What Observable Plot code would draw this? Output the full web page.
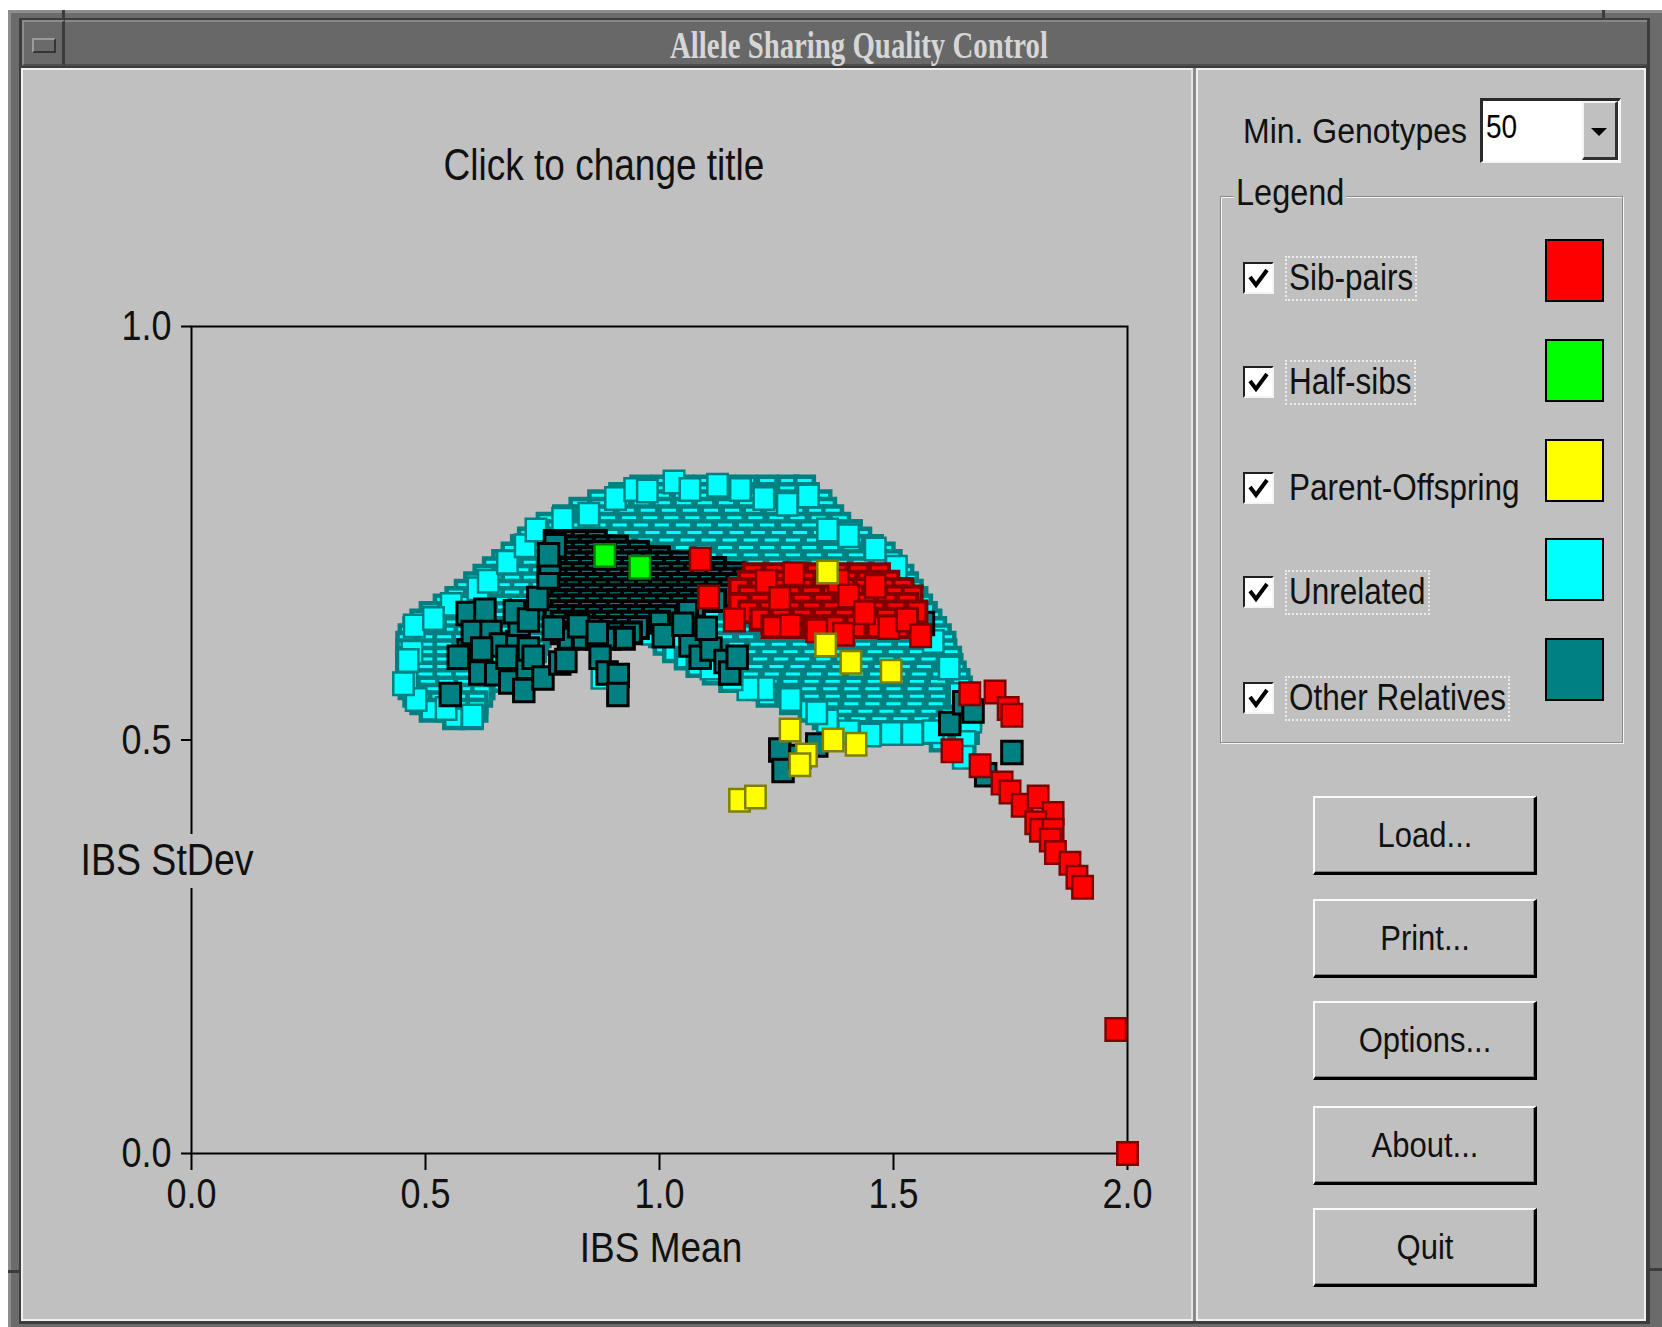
<!DOCTYPE html>
<html>
<head>
<meta charset="utf-8">
<script src="https://cdn.jsdelivr.net/npm/d3@7"></script>
<script src="https://cdn.jsdelivr.net/npm/@observablehq/plot@0.6"></script>
<style>
html,body{margin:0;padding:0;}
body{width:1662px;height:1327px;position:relative;overflow:hidden;background:#fff;font-family:"Liberation Sans",Arial,sans-serif;color:#000;}
.abs{position:absolute;box-sizing:border-box;}
.t{position:absolute;white-space:nowrap;line-height:1;}
#chart{position:absolute;left:22px;top:68px;z-index:2;}
#chart svg g[aria-label="x-axis tick"] path,#chart svg g[aria-label="y-axis tick"] path,#chart svg .tick line{stroke-width:2px;stroke:#000;}
</style>
</head>
<body>
<div id="chrome"></div>
<div id="chart"></div>
<script>
// ---------------- data ----------------
const xTicks = [0, 0.5, 1.0, 1.5, 2.0];
const yTicks = [0, 0.5, 1.0];
const windowTitle = "Allele Sharing Quality Control";
const chartTitle = "Click to change title";
const xLabel = "IBS Mean";
const yLabel = "IBS StDev";
const categories = ["Sib-pairs", "Half-sibs", "Parent-Offspring", "Unrelated", "Other Relatives"];
const buttonLabels = ["Load...", "Print...", "Options...", "About...", "Quit"];
const minGenotypesLabel = "Min. Genotypes";
const minGenotypesValue = "50";

// Sib-pairs [IBS mean, IBS stdev]: dense core rows, then individually visible squares
const sibRows = [
  [0.700,[1.20,1.245,1.29,1.335,1.38,1.425,1.47]],
  [0.691,[1.19,1.23,1.27,1.31,1.355,1.40,1.445,1.49]],
  [0.682,[1.17,1.215,1.26,1.305,1.35,1.395,1.44,1.485,1.52]],
  [0.673,[1.19,1.235,1.28,1.325,1.37,1.415,1.46,1.505,1.54]],
  [0.664,[1.17,1.215,1.26,1.305,1.35,1.395,1.44,1.485,1.53]],
  [0.655,[1.19,1.235,1.28,1.325,1.37,1.415,1.46,1.505,1.55]],
  [0.646,[1.215,1.26,1.305,1.35,1.395,1.44,1.485,1.53]],
  [0.637,[1.24,1.285,1.33,1.375,1.42,1.465,1.51]]
];
const sibPairs = [
  [1.087,0.719],[1.105,0.673],[1.160,0.645],[1.228,0.692],[1.287,0.701],[1.382,0.692],[1.461,0.686],
  [1.257,0.671],[1.404,0.674],[1.438,0.654],[1.490,0.636],[1.529,0.645],[1.558,0.626],[1.280,0.638],
  [1.393,0.628],[1.336,0.632],
  [1.663,0.556],[1.717,0.558],[1.745,0.538],[1.753,0.530],[1.625,0.487],[1.685,0.469],[1.732,0.448],
  [1.749,0.437],[1.775,0.421],[1.809,0.431],[1.841,0.411],[1.804,0.400],[1.814,0.391],[1.841,0.391],
  [1.835,0.379],[1.846,0.364],[1.877,0.351],[1.892,0.334],[1.904,0.322],[1.975,0.150],[2.0,0.0]
];
const halfSibs = [[0.883,0.723],[0.958,0.709]];
const parentOffspring = [
  [1.359,0.703],[1.355,0.615],[1.409,0.594],[1.495,0.583],[1.279,0.512],[1.371,0.500],[1.42,0.495],
  [1.314,0.482],[1.30,0.470],[1.171,0.427],[1.205,0.431]
];
// Unrelated: interior rows [stdev, [means...]] (top to bottom), then edge squares
const unrelatedRows = [
  [0.806,[0.96,1.005,1.05,1.095,1.14,1.185,1.23,1.275,1.31]],
  [0.797,[0.915,0.958,1.003,1.048,1.093,1.138,1.183,1.228,1.273,1.318]],
  [0.788,[0.87,0.915,0.96,1.005,1.05,1.095,1.14,1.185,1.23,1.275,1.32,1.345]],
  [0.779,[0.83,0.872,0.917,0.962,1.007,1.052,1.097,1.142,1.187,1.232,1.277,1.322,1.355]],
  [0.770,[0.795,0.84,0.885,0.93,0.975,1.02,1.065,1.11,1.155,1.20,1.245,1.29,1.335,1.37]],
  [0.761,[0.76,0.80,0.845,0.89,0.935,0.98,1.025,1.07,1.115,1.16,1.205,1.25,1.295,1.34,1.385]],
  [0.752,[0.74,0.78,0.825,0.87,0.915,0.96,1.005,1.05,1.095,1.14,1.185,1.23,1.275,1.32,1.365,1.41]],
  [0.743,[0.72,0.76,0.805,0.85,0.895,0.94,0.985,1.03,1.075,1.12,1.165,1.21,1.255,1.30,1.345,1.39,1.43]],
  [0.734,[0.705,0.745,0.79,0.835,0.88,0.925,0.97,1.015,1.06,1.105,1.15,1.195,1.24,1.285,1.33,1.375,1.42,1.455]],
  [0.725,[0.685,0.725,0.765,0.96,1.005,1.05,1.095,1.14,1.185,1.23,1.275,1.32,1.365,1.41,1.455,1.48]],
  [0.716,[0.665,0.705,0.745,1.06,1.105,1.15,1.195,1.24,1.285,1.33,1.375,1.42,1.465,1.495]],
  [0.707,[0.645,0.685,0.725,0.76,1.16,1.205,1.25,1.295,1.34,1.385,1.43,1.475,1.505]],
  [0.698,[0.625,0.665,0.705,0.745,1.18,1.25,1.32,1.39,1.46,1.50,1.52]],
  [0.689,[0.605,0.645,0.685,0.725,0.76,1.21,1.29,1.37,1.45,1.51,1.53]],
  [0.680,[0.585,0.625,0.665,0.705,0.745,1.24,1.32,1.40,1.48,1.54]],
  [0.671,[0.565,0.605,0.645,0.685,0.725,0.76,1.12,1.20,1.28,1.36,1.44,1.52,1.55]],
  [0.662,[0.54,0.58,0.62,0.66,0.70,0.74,1.14,1.22,1.30,1.38,1.46,1.53,1.56]],
  [0.653,[0.51,0.55,0.59,0.63,0.67,0.71,0.75,1.05,1.09,1.17,1.25,1.33,1.41,1.49,1.545,1.57]],
  [0.644,[0.49,0.53,0.57,0.61,0.65,0.69,0.73,1.03,1.07,1.11,1.19,1.27,1.35,1.43,1.51,1.56,1.58]],
  [0.635,[0.475,0.515,0.555,0.595,0.635,0.675,0.715,0.75,1.01,1.05,1.09,1.13,1.17,1.25,1.33,1.41,1.49,1.55,1.59]],
  [0.626,[0.465,0.505,0.545,0.585,0.625,0.665,0.705,0.745,1.00,1.04,1.08,1.12,1.16,1.20,1.245,1.29,1.335,1.38,1.425,1.47,1.515,1.56,1.60]],
  [0.617,[0.46,0.50,0.54,0.58,0.62,0.66,0.70,0.74,1.01,1.05,1.095,1.14,1.185,1.23,1.275,1.32,1.365,1.41,1.455,1.50,1.545,1.59,1.61]],
  [0.608,[0.46,0.50,0.54,0.58,0.62,0.66,0.70,0.735,1.03,1.075,1.12,1.165,1.21,1.255,1.30,1.345,1.39,1.435,1.48,1.525,1.57,1.612]],
  [0.599,[0.46,0.50,0.54,0.58,0.62,0.66,0.70,1.055,1.10,1.145,1.19,1.235,1.28,1.325,1.37,1.415,1.46,1.505,1.55,1.595,1.622]],
  [0.590,[0.46,0.50,0.54,0.58,0.62,0.66,0.69,1.08,1.125,1.17,1.215,1.26,1.305,1.35,1.395,1.44,1.485,1.53,1.575,1.625]],
  [0.581,[0.46,0.50,0.54,0.58,0.62,0.66,1.115,1.16,1.205,1.25,1.295,1.34,1.385,1.43,1.475,1.52,1.565,1.61,1.632]],
  [0.572,[0.46,0.50,0.54,0.58,0.62,0.65,1.15,1.195,1.24,1.285,1.33,1.375,1.42,1.465,1.51,1.555,1.60,1.64]],
  [0.563,[0.465,0.505,0.545,0.585,0.625,1.19,1.235,1.28,1.325,1.37,1.415,1.46,1.505,1.55,1.595,1.645]],
  [0.554,[0.475,0.515,0.555,0.595,0.62,1.23,1.275,1.32,1.365,1.41,1.455,1.50,1.545,1.59,1.635,1.655]],
  [0.545,[0.49,0.53,0.57,0.61,1.28,1.325,1.37,1.415,1.46,1.505,1.55,1.595,1.64,1.66]],
  [0.536,[0.51,0.55,0.59,0.61,1.32,1.365,1.41,1.455,1.50,1.545,1.59,1.635,1.663]],
  [0.527,[0.56,0.60,1.35,1.395,1.44,1.485,1.53,1.575,1.62,1.665]],
  [0.518,[1.38,1.425,1.47,1.515,1.56,1.605,1.65]],
  [0.509,[1.41,1.455,1.50,1.545,1.59,1.635,1.66]],
  [0.500,[1.60,1.645]]
];
const unrelatedEdge = [
  [0.460,0.574],[0.471,0.606],[0.476,0.638],[0.521,0.645],[0.555,0.664],[0.612,0.683],[0.634,0.692],
  [0.675,0.715],[0.713,0.735],[0.736,0.754],[0.793,0.767],[0.849,0.773],[0.906,0.792],[0.947,0.803],
  [0.974,0.801],[1.031,0.812],[1.065,0.803],[1.124,0.808],[1.173,0.803],[1.223,0.792],[1.273,0.785],
  [1.318,0.795],[1.359,0.754],[1.404,0.747],[1.461,0.731],[1.506,0.709],[1.522,0.677],[1.563,0.651],
  [1.585,0.619],[1.619,0.587],[1.642,0.555],[1.665,0.523],[1.653,0.497],[1.649,0.479],
  [1.585,0.510],[1.540,0.508],[1.495,0.508],[1.450,0.506],[1.404,0.510],[1.359,0.523],[1.336,0.533],
  [1.280,0.549],[1.223,0.562],[1.189,0.562],[1.155,0.574],[1.110,0.587],[1.053,0.626],[0.985,0.629],
  [0.877,0.576],[0.600,0.529],[0.544,0.538],[0.480,0.549],[0.453,0.568],[0.463,0.596],[0.517,0.647]
];
// Other relatives: dense band rows (top to bottom), then individual squares
const otherRows = [
  [0.740,[0.775,0.805,0.835,0.865]],
  [0.7335,[0.79,0.82,0.85,0.88,0.91]],
  [0.727,[0.775,0.805,0.835,0.865,0.895,0.925,0.955]],
  [0.7205,[0.79,0.82,0.85,0.88,0.91,0.94,0.97,1.00]],
  [0.714,[0.775,0.805,0.835,0.865,0.895,0.925,0.955,0.985,1.015,1.045]],
  [0.7075,[0.79,0.82,0.85,0.88,0.91,0.94,0.97,1.00,1.03,1.06,1.09,1.12]],
  [0.701,[0.775,0.805,0.835,0.865,0.895,0.925,0.955,0.985,1.015,1.045,1.075,1.105,1.135,1.16]],
  [0.6945,[0.79,0.82,0.85,0.88,0.91,0.94,0.97,1.00,1.03,1.06,1.09,1.12,1.15,1.18]],
  [0.688,[0.775,0.805,0.835,0.865,0.895,0.925,0.955,0.985,1.015,1.045,1.075,1.105,1.135,1.165,1.195]],
  [0.6815,[0.79,0.82,0.85,0.88,0.91,0.94,0.97,1.00,1.03,1.06,1.09,1.12,1.15,1.18]],
  [0.675,[0.775,0.805,0.835,0.865,0.895,0.925,0.955,0.985,1.015,1.045,1.075,1.105,1.135]],
  [0.6685,[0.79,0.82,0.85,0.88,0.91,0.94,0.97,1.00,1.03,1.06,1.09,1.12]],
  [0.662,[0.775,0.805,0.835,0.865,0.895,0.925,0.955,0.985,1.015,1.045,1.075]],
  [0.6555,[0.79,0.82,0.85,0.88,0.91,0.94,0.97,1.00,1.03,1.06]],
  [0.649,[0.775,0.805,0.835,0.865,0.895,0.925,0.955,0.985,1.015]],
  [0.6425,[0.79,0.82,0.85,0.88,0.91,0.94,0.97,1.00]],
  [0.636,[0.775,0.805,0.835,0.865,0.895,0.925,0.955]],
  [0.6295,[0.79,0.82,0.85,0.88,0.91,0.94]],
  [0.623,[0.805,0.835,0.865,0.895,0.925]]
];
const otherPoints = [
  [0.553,0.555],[0.589,0.653],[0.627,0.657],[0.591,0.608],[0.616,0.581],[0.57,0.60],[0.60,0.63],
  [0.64,0.63],[0.66,0.615],[0.62,0.61],[0.65,0.58],[0.68,0.57],[0.695,0.618],[0.674,0.600],
  [0.717,0.588],[0.70,0.64],[0.72,0.61],[0.69,0.655],[0.72,0.645],[0.740,0.671],[0.71,0.56],
  [0.73,0.60],[0.751,0.575],[0.787,0.593],[0.80,0.596],[0.773,0.635],[0.827,0.638],[0.867,0.630],
  [0.873,0.600],[0.888,0.581],[0.912,0.578],[0.911,0.555],[0.762,0.697],[0.766,0.715],[0.777,0.735],
  [0.763,0.724],[1.008,0.626],[1.065,0.615],[1.087,0.600],[1.11,0.61],[1.14,0.595],[1.150,0.581],
  [1.166,0.600],[1.05,0.64],[1.10,0.635],
  [1.257,0.488],[1.264,0.463],[1.30,0.480],[1.336,0.494],[1.564,0.641],[1.62,0.520],[1.65,0.545],
  [1.670,0.535],[1.697,0.458],[1.753,0.485]
];

const rowsToPoints = rows => rows.flatMap(([y, xs]) => xs.map(x => [x, y]));
const unrelatedCore = rowsToPoints(unrelatedRows);
const otherCore = rowsToPoints(otherRows);
const sibCore = rowsToPoints(sibRows);

// ---------------- styles ----------------
const fillColors = {"Sib-pairs":"#ff0000","Half-sibs":"#00ff00","Parent-Offspring":"#ffff00","Unrelated":"#00ffff","Other Relatives":"#008080"};
const strokeColors = {"Sib-pairs":"#800000","Half-sibs":"#008000","Parent-Offspring":"#808000","Unrelated":"#008080","Other Relatives":"#000000"};

// slightly tall square marker (screen was stretched vertically)
const tallSquare = {draw(ctx, size) { const w = Math.sqrt(size / 1.1), h = w * 1.1; ctx.rect(-w / 2, -h / 2, w, h); }};
const dotOpts = (cat, sw, r = 12.1) => ({x: d => d[0], y: d => d[1], symbol: tallSquare, r, fill: fillColors[cat], stroke: strokeColors[cat], strokeWidth: sw});

const chart = Plot.plot({
  width: 1171, height: 1252,
  marginLeft: 169, marginRight: 66, marginTop: 258, marginBottom: 167,
  style: {background: "transparent", fontFamily: "'Liberation Sans', Arial, sans-serif", fontSize: "36px", color: "#111", overflow: "visible"},
  x: {domain: [0, 2], ticks: xTicks, tickFormat: d3.format(".1f"), tickSize: 17, tickPadding: 10, label: null},
  y: {domain: [0, 1], ticks: yTicks, tickFormat: d3.format(".1f"), tickSize: 10, tickPadding: 10, label: null},
  marks: [
    Plot.frame({stroke: "#000", strokeWidth: 2}),
    Plot.dot(unrelatedCore, dotOpts("Unrelated", 4.5, 11)),
    Plot.dot(unrelatedEdge, dotOpts("Unrelated", 2.5)),
    Plot.dot(otherCore, dotOpts("Other Relatives", 4, 11.2)),
    Plot.dot(otherPoints, dotOpts("Other Relatives", 3)),
    Plot.dot(sibCore, dotOpts("Sib-pairs", 4, 11.2)),
    Plot.dot(sibPairs, dotOpts("Sib-pairs", 2.5)),
    Plot.dot(parentOffspring, dotOpts("Parent-Offspring", 2.5)),
    Plot.dot(halfSibs, dotOpts("Half-sibs", 2.5))
  ]
});
document.getElementById("chart").appendChild(chart);
// the original screen font is rendered vertically stretched: scale each label about its own centre
chart.querySelectorAll("text").forEach(t => {
  const b = t.getBBox();
  const cx = b.x + b.width / 2, cy = b.y + b.height / 2;
  const tr = t.getAttribute("transform") || "";
  t.setAttribute("transform", `${tr} translate(${cx},${cy}) scale(1,1.17) translate(${-cx},${-cy})`);
});

// ---------------- window chrome ----------------
const chrome = document.getElementById("chrome");
function box(css, parent = chrome) {
  const d = document.createElement("div");
  d.className = "abs";
  d.style.cssText = css;
  parent.appendChild(d);
  return d;
}
function txt(s, {x, cy, size, anchor = "start", sx = 1, sy = 1.15, color = "#000", family, weight, z = 1}) {
  const d = document.createElement("div");
  d.className = "t";
  d.textContent = s;
  d.style.fontSize = size + "px";
  d.style.height = size + "px";
  d.style.top = (cy - size / 2) + "px";
  d.style.left = x + "px";
  d.style.color = color;
  d.style.zIndex = z;
  if (family) d.style.fontFamily = family;
  if (weight) d.style.fontWeight = weight;
  if (anchor === "middle") { d.style.transformOrigin = "50% 50%"; d.style.transform = `translateX(-50%) scale(${sx},${sy})`; }
  else { d.style.transformOrigin = "0 50%"; d.style.transform = `scale(${sx},${sy})`; }
  chrome.appendChild(d);
  return d;
}

// outer frame
box("left:8px;top:10px;width:1654px;height:1317px;background:#6b6b6b;border-top:3px solid #8d8d8d;border-left:3px solid #8d8d8d;");
box("left:19px;top:18px;width:1631px;height:1306px;background:#3c3c3c;");
box("left:62px;top:10px;width:3px;height:10px;background:#3c3c3c;");
box("left:1602px;top:10px;width:3px;height:10px;background:#3c3c3c;");
box("left:1650px;top:1268px;width:12px;height:3px;background:#3c3c3c;");
box("left:8px;top:1270px;width:11px;height:3px;background:#3c3c3c;");
// title bar
box("left:22px;top:20px;width:1625px;height:46px;background:#686868;border-top:2px solid #878787;border-bottom:2px solid #4c4c4c;");
box("left:22px;top:20px;width:43px;height:46px;background:#6a6a6a;border-top:2px solid #8c8c8c;border-left:2px solid #8c8c8c;border-right:3px solid #3c3c3c;border-bottom:2px solid #4c4c4c;");
box("left:32px;top:38px;width:24px;height:15px;background:#6a6a6a;border-top:2px solid #9c9c9c;border-left:2px solid #9c9c9c;border-bottom:2px solid #353535;border-right:2px solid #353535;");
txt(windowTitle, {x: 859, cy: 44.5, size: 36, anchor: "middle", sx: 0.8, sy: 1.05, color: "#d6d6d6", family: "'Liberation Serif', 'DejaVu Serif', serif", weight: "bold"});

// content panels
box("left:21px;top:68px;width:1172px;height:1253px;background:#c0c0c0;border:2px solid #f0f0f0;border-right-color:#e4e4e4;");
box("left:1193px;top:68px;width:3px;height:1253px;background:#8a8a8a;");
box("left:1196px;top:68px;width:450px;height:1253px;background:#c0c0c0;border:2px solid #f0f0f0;");

// chart texts
txt(chartTitle, {x: 604, cy: 165, size: 37, anchor: "middle", sy: 1.19, color: "#111"});
txt(xLabel, {x: 661, cy: 1247, size: 37, anchor: "middle", sy: 1.17, color: "#111"});
box("left:74px;top:834px;width:190px;height:54px;background:#c0c0c0;z-index:3;");
txt(yLabel, {x: 167, cy: 861, size: 37.5, anchor: "middle", sy: 1.17, color: "#111", z: 4});

// right panel: combobox
txt(minGenotypesLabel, {x: 1243, cy: 131, size: 32, sy: 1.12, color: "#111"});
box("left:1480px;top:98px;width:141px;height:65px;background:#fff;border-top:3px solid #2a2a2a;border-left:3px solid #2a2a2a;border-bottom:2px solid #f4f4f4;border-right:2px solid #f4f4f4;");
box("left:1582px;top:101px;width:36px;height:59px;background:#c0c0c0;border-top:2px solid #f4f4f4;border-left:2px solid #f4f4f4;border-bottom:3px solid #303030;border-right:3px solid #303030;");
box("left:1591px;top:128px;width:0;height:0;border-left:8px solid transparent;border-right:8px solid transparent;border-top:8px solid #000;");
txt(minGenotypesValue, {x: 1486, cy: 127, size: 28, sy: 1.2, color: "#000"});

// legend group
box("left:1220px;top:196px;width:403px;height:547px;border:1px solid #8c8c8c;box-shadow:1px 1px 0 #f4f4f4, inset 1px 1px 0 #f4f4f4;");
const lg = txt("Legend", {x: 1236, cy: 193, size: 32.5, sy: 1.12, color: "#111"});
lg.style.background = "#c0c0c0"; lg.style.padding = "0 2px"; lg.style.left = "1234px";

const rowCy = [277.5, 382, 487.5, 591.5, 697.5];
const swatchTop = [239, 339, 439, 538, 638];
categories.forEach((cat, i) => {
  const cy = rowCy[i];
  const cb = box(`left:1243px;top:${cy - 16}px;width:31px;height:32px;background:#fff;border-top:2px solid #202020;border-left:2px solid #202020;border-bottom:2px solid #f4f4f4;border-right:2px solid #f4f4f4;`);
  cb.innerHTML = '<svg width="27" height="28" style="position:absolute;left:0;top:0"><path d="M5,13 L11,21 L22,6" fill="none" stroke="#000" stroke-width="4"/></svg>';
  const lab = txt(cat, {x: 1289, cy, size: 31.5, sy: 1.15, color: "#111"});
  if (cat !== "Parent-Offspring") {
    const w = lab.offsetWidth;
    box(`left:1285px;top:${cy - 22}px;width:${w + 8}px;height:45px;border:2px dotted #ececec;`);
  }
  box(`left:1545px;top:${swatchTop[i]}px;width:59px;height:63px;background:${fillColors[cat]};border:2px solid #000;`);
});

// buttons
const btnTop = [796, 899, 1001, 1106, 1208];
buttonLabels.forEach((b, i) => {
  box(`left:1313px;top:${btnTop[i]}px;width:224px;height:79px;background:#c0c0c0;border-top:2px solid #fafafa;border-left:2px solid #fafafa;border-bottom:3px solid #000;border-right:3px solid #000;box-shadow:inset -1px -1px 0 #808080;`);
  txt(b, {x: 1425, cy: btnTop[i] + 38, size: 31, anchor: "middle", sy: 1.15, color: "#111"});
});
</script>
</body>
</html>
